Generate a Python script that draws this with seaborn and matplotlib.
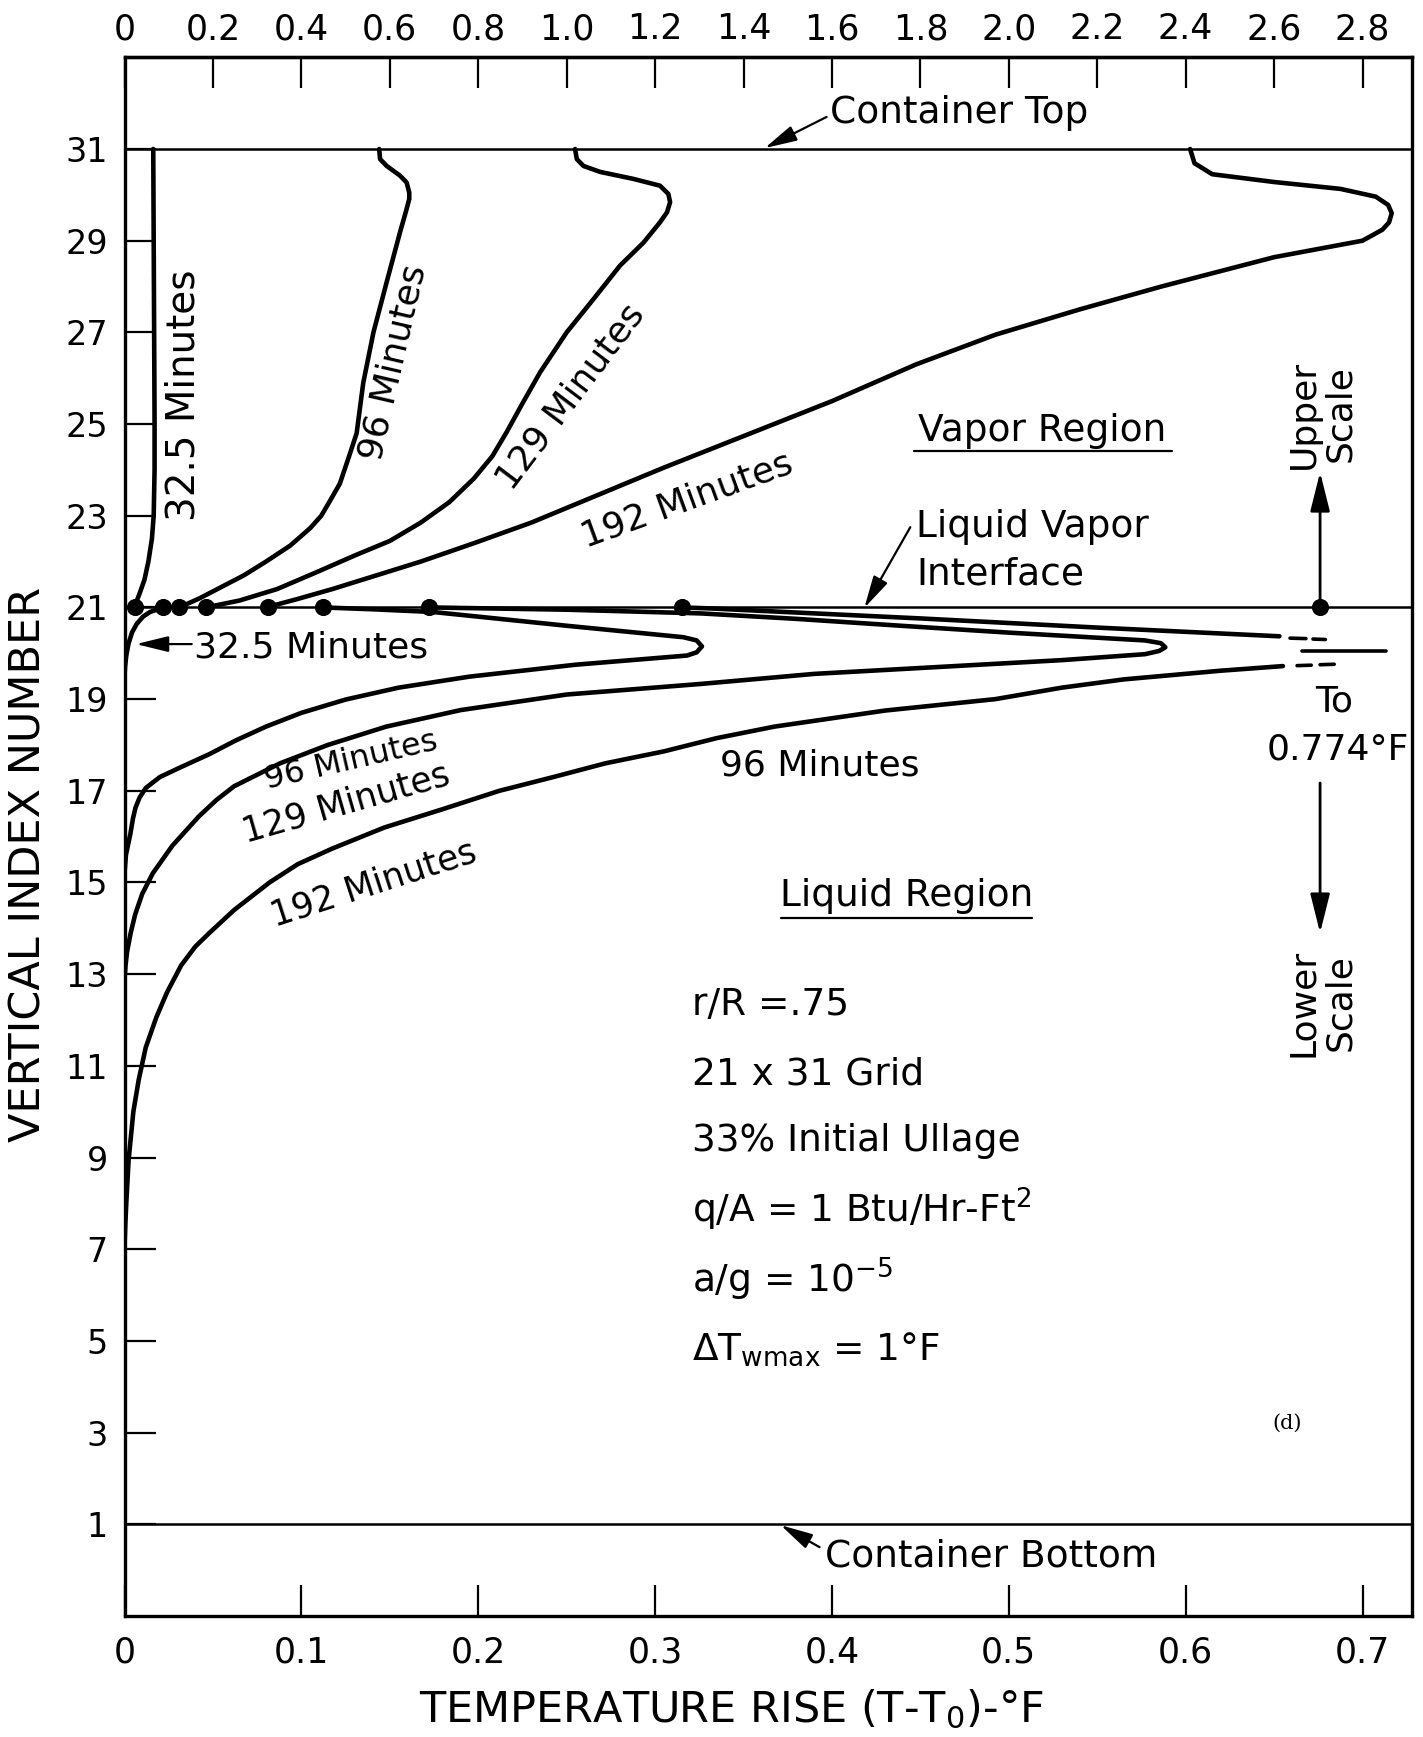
import numpy as np
import pandas as pd
import matplotlib
matplotlib.use("Agg")
import matplotlib.pyplot as plt
import seaborn as sns

# ---------------- data ----------------
# vapor region curves: values on the UPPER scale (deg F), vertical index
v32_idx = [21, 21.15, 21.3, 21.6, 22, 22.5, 23, 24, 25, 27, 29, 31]
v32_val = [0.024, 0.028, 0.034, 0.045, 0.054, 0.062, 0.066, 0.068, 0.068, 0.067, 0.066, 0.065]

v96_idx = [31, 30.78, 30.63, 30.42, 30.27, 30.05, 29.91, 29.69, 29.18, 28.1, 27.0, 25.9, 24.8,
           24.3, 23.7, 23.33, 23.0, 22.73, 22.35, 22.0, 21.7, 21.45, 21.2, 21.0]
v96_val = [0.576, 0.578, 0.593, 0.623, 0.638, 0.644, 0.644, 0.638, 0.623, 0.593, 0.563, 0.540, 0.525,
           0.508, 0.487, 0.465, 0.445, 0.42, 0.375, 0.32, 0.27, 0.22, 0.17, 0.124]

v129_idx = [31, 30.78, 30.63, 30.5, 30.35, 30.2, 30.02, 29.84, 29.62, 29.4, 28.96, 28.46, 27.73, 27.0,
            26.13, 25.45, 24.82, 24.3, 23.81, 23.3, 22.85, 22.45, 22.13, 21.75, 21.4, 21.15, 21.0]
v129_val = [1.019, 1.023, 1.038, 1.076, 1.15, 1.211, 1.23, 1.234, 1.227, 1.211, 1.174, 1.121, 1.061, 1.0,
            0.94, 0.9, 0.864, 0.832, 0.79, 0.735, 0.67, 0.6, 0.52, 0.43, 0.345, 0.26, 0.184]

v192_idx = [31, 30.69, 30.45, 30.28, 30.13, 29.96, 29.78, 29.6, 29.4, 29.24, 29.0, 28.64, 28.0, 27.5,
            26.95, 26.3, 25.5, 24.05, 22.85, 22.4, 22.0, 21.7, 21.4, 21.18, 21.0]
v192_val = [2.41, 2.42, 2.46, 2.6, 2.75, 2.83, 2.858, 2.866, 2.86, 2.845, 2.8, 2.6, 2.345, 2.16,
            1.97, 1.79, 1.6, 1.22, 0.92, 0.79, 0.67, 0.57, 0.47, 0.39, 0.32]

# liquid region curves: values on the LOWER scale (deg F)
l32_idx = [19.5, 19.7, 19.95, 20.2, 20.45, 20.64, 20.8, 20.9, 21.0]
l32_val = [0.0, 0.0003, 0.001, 0.0022, 0.0042, 0.0069, 0.0105, 0.0144, 0.022]

l96_idx = [15.2, 15.6, 16.06, 16.4, 16.63, 16.85, 17.06, 17.3, 17.5, 17.8, 18.1, 18.4, 18.7, 18.99,
           19.25, 19.49, 19.75, 19.95, 20.02, 20.15, 20.28, 20.35, 20.6, 20.9, 20.96, 21.0]
l96_val = [0.0, 0.0008, 0.0033, 0.0048, 0.0062, 0.0085, 0.012, 0.02, 0.031, 0.048, 0.063, 0.08, 0.1, 0.125,
           0.155, 0.195, 0.255, 0.318, 0.3235, 0.3265, 0.3235, 0.316, 0.25, 0.1745, 0.14, 0.112]

l129_idx = [12.9, 13.2, 13.5, 13.9, 14.3, 14.75, 15.2, 15.8, 16.44, 16.8, 17.1, 17.6, 18.0, 18.4, 18.76,
            19.1, 19.33, 19.55, 19.7, 19.85, 19.98, 20.05, 20.13, 20.22, 20.28, 20.45, 20.6, 20.75,
            20.87, 20.95, 21.0]
l129_val = [0.0, 0.0006, 0.0015, 0.0035, 0.006, 0.01, 0.016, 0.027, 0.042, 0.052, 0.062, 0.088, 0.115,
            0.148, 0.19, 0.25, 0.3256, 0.39, 0.46, 0.53, 0.577, 0.585, 0.5885, 0.586, 0.577, 0.5, 0.439,
            0.38, 0.3256, 0.25, 0.172]

l192_low_idx = [7.05, 7.5, 8.0, 8.94, 10.0, 10.69, 11.4, 12.06, 12.6, 13.19, 13.6, 13.9, 14.4, 15.0,
                15.4, 15.74, 16.2, 16.6, 17.0, 17.3, 17.6, 17.86, 18.15, 18.4, 18.75, 19.0, 19.25,
                19.43, 19.62, 19.72]
l192_low_val = [0.0, 0.0004, 0.001, 0.0023, 0.005, 0.008, 0.012, 0.018, 0.024, 0.032, 0.04, 0.048, 0.062,
                0.082, 0.098, 0.1175, 0.147, 0.18, 0.212, 0.2425, 0.272, 0.305, 0.335, 0.3675, 0.43,
                0.4925, 0.53, 0.565, 0.62, 0.655]
l192_up_idx = [21.0, 20.98, 20.76, 20.56, 20.37]
l192_up_val = [0.315, 0.33, 0.45, 0.55, 0.653]

# interface dots (lower scale)
dot_x = [0.006, 0.022, 0.031, 0.046, 0.081, 0.112, 0.172, 0.315, 0.676]

lower_ticks = [0, 0.1, 0.2, 0.3, 0.4, 0.5, 0.6, 0.7]
lower_labels = ["0", "0.1", "0.2", "0.3", "0.4", "0.5", "0.6", "0.7"]
upper_ticks = [0, 0.2, 0.4, 0.6, 0.8, 1.0, 1.2, 1.4, 1.6, 1.8, 2.0, 2.2, 2.4, 2.6, 2.8]
upper_labels = ["0", "0.2", "0.4", "0.6", "0.8", "1.0", "1.2", "1.4", "1.6", "1.8", "2.0", "2.2", "2.4", "2.6", "2.8"]
y_ticks = list(range(1, 32, 2))

# ---------------- build long table ----------------
rows = []
def add(name, vals, idx, scale=1.0):
    for v, i in zip(vals, idx):
        rows.append((name, v * scale, i))

add("v32", v32_val, v32_idx, 0.25)
add("v96", v96_val, v96_idx, 0.25)
add("v129", v129_val, v129_idx, 0.25)
add("v192", v192_val, v192_idx, 0.25)
add("l32", l32_val, l32_idx)
add("l96", l96_val, l96_idx)
add("l129", l129_val, l129_idx)
add("l192a", l192_low_val, l192_low_idx)
add("l192b", l192_up_val, l192_up_idx)
df = pd.DataFrame(rows, columns=["curve", "x", "y"])

# ---------------- figure ----------------
sns.set_theme(style="ticks")
plt.rcParams["font.family"] = ["DejaVu Sans"]
plt.rcParams["mathtext.fontset"] = "dejavusans"
plt.rcParams["text.color"] = "black"
plt.rcParams["axes.labelcolor"] = "black"

fig = plt.figure(figsize=(14.23, 17.37), dpi=100)
ax = fig.add_axes([0.0875, 0.0697, 0.9048, 0.8973])

sns.lineplot(data=df, x="x", y="y", units="curve", estimator=None, sort=False,
             color="black", lw=3.3, ax=ax, legend=False)
for ln in ax.lines:
    ln.set_solid_joinstyle("round")
    ln.set_solid_capstyle("round")

# off-scale continuation dashes of the 192-minute liquid curve
dash_rows = [("d1", 0.659, 20.33), ("d1", 0.668, 20.32),
             ("d2", 0.672, 20.31), ("d2", 0.679, 20.30),
             ("d3", 0.663, 19.73), ("d3", 0.671, 19.74),
             ("d4", 0.676, 19.75), ("d4", 0.684, 19.76),
             ("h", 0.666, 20.05), ("h", 0.713, 20.05)]
ddf = pd.DataFrame(dash_rows, columns=["seg", "x", "y"])
sns.lineplot(data=ddf, x="x", y="y", units="seg", estimator=None, sort=False,
             color="black", lw=2.6, ax=ax, legend=False)

# reference lines
for yy in (31, 21, 1):
    ax.axhline(yy, color="black", lw=1.8, zorder=1)

sns.scatterplot(x=dot_x, y=[21] * len(dot_x), color="black", s=130, edgecolor="black",
                ax=ax, zorder=6, legend=False)

ax.set_xlim(0, 0.728)
ax.set_ylim(-1, 33)
ax.set_xticks(lower_ticks)
ax.set_xticklabels(lower_labels)
ax.set_yticks(y_ticks)
ax.set_yticklabels([str(t) for t in y_ticks])
ax.tick_params(axis="x", direction="in", length=22, width=1.6, labelsize=25, pad=14,
               top=False, bottom=True, colors="black")
ax.tick_params(axis="y", direction="in", length=22, width=1.6, labelsize=24, pad=12,
               right=False, left=True, colors="black")
ax.set_xlabel("")
ax.set_ylabel("")
for s in ax.spines.values():
    s.set_linewidth(2.4)
    s.set_color("black")

secax = ax.secondary_xaxis("top", functions=(lambda x: 4 * x, lambda x: x / 4))
secax.set_xticks(upper_ticks)
secax.set_xticklabels(upper_labels)
secax.tick_params(direction="in", length=22, width=1.6, labelsize=25, pad=8, colors="black")
secax.spines["top"].set_linewidth(2.4)

fig.text(0.0197, 0.5026, "VERTICAL INDEX NUMBER", rotation=90, ha="center", va="center", fontsize=31)
fig.text(0.5137, 0.0161, "TEMPERATURE RISE (T-T$_0$)-°F", ha="center", va="center", fontsize=31)

fs = 27
cfs = 26
lfs = 24
arrow = dict(arrowstyle="-|>,head_length=0.9,head_width=0.22", color="black", lw=1.6,
             mutation_scale=22, shrinkA=0, shrinkB=0)

# container top / bottom
ax.text(0.399, 31.78, "Container Top", fontsize=fs, ha="left", va="center")
ax.annotate("", xy=(0.362, 31.02), xytext=(0.397, 31.7), arrowprops=arrow)
ax.text(0.396, 0.3, "Container Bottom", fontsize=fs, ha="left", va="center")
ax.annotate("", xy=(0.371, 0.98), xytext=(0.393, 0.5), arrowprops=arrow)

# region titles
ax.text(0.519, 24.85, "Vapor Region", fontsize=fs, ha="center", va="center")
ax.plot([0.4465, 0.5925], [24.42, 24.42], color="black", lw=1.6)
ax.text(0.442, 14.7, "Liquid Region", fontsize=fs, ha="center", va="center")
ax.plot([0.3713, 0.5133], [14.23, 14.23], color="black", lw=1.6)

ax.text(0.4477, 22.23, "Liquid Vapor\nInterface", fontsize=fs, ha="left", va="center", linespacing=1.4)
ax.annotate("", xy=(0.4183, 20.99), xytext=(0.4443, 22.75), arrowprops=arrow)

# curve labels - vapor
ax.text(0.0331, 25.63, "32.5 Minutes", fontsize=28, rotation=90, ha="center", va="center")
ax.text(0.152, 26.35, "96 Minutes", fontsize=cfs, rotation=77, ha="center", va="center", rotation_mode="anchor")
ax.text(0.252, 25.59, "129 Minutes", fontsize=cfs, rotation=53, ha="center", va="center", rotation_mode="anchor")
ax.text(0.318, 23.35, "192 Minutes", fontsize=cfs, rotation=20, ha="center", va="center", rotation_mode="anchor")

# curve labels - liquid
ax.text(0.0395, 20.12, "32.5 Minutes", fontsize=cfs, ha="left", va="center")
ax.annotate("", xy=(0.0065, 20.2), xytext=(0.038, 20.2), arrowprops=arrow)
ax.text(0.128, 17.66, "96 Minutes", fontsize=23, rotation=13, ha="center", va="center", rotation_mode="anchor")
ax.text(0.1253, 16.72, "129 Minutes", fontsize=lfs + 1, rotation=16, ha="center", va="center", rotation_mode="anchor")
ax.text(0.1411, 14.97, "192 Minutes", fontsize=lfs + 1, rotation=18, ha="center", va="center", rotation_mode="anchor")
ax.text(0.3933, 17.56, "96 Minutes", fontsize=cfs, ha="center", va="center")

# scale indicator
ax.annotate("", xy=(0.676, 23.95), xytext=(0.676, 21.0),
            arrowprops=dict(arrowstyle="-|>,head_length=1.0,head_width=0.25", color="black", lw=2,
                            mutation_scale=24, shrinkA=0, shrinkB=0))
ax.annotate("", xy=(0.676, 13.9), xytext=(0.676, 17.17),
            arrowprops=dict(arrowstyle="-|>,head_length=1.0,head_width=0.25", color="black", lw=2,
                            mutation_scale=24, shrinkA=0, shrinkB=0))
ax.text(0.677, 25.22, "Upper\nScale", fontsize=cfs, rotation=90, ha="center", va="center", linespacing=1.1)
ax.text(0.677, 12.37, "Lower\nScale", fontsize=cfs, rotation=90, ha="center", va="center", linespacing=1.1)
ax.text(0.684, 18.95, "To", fontsize=cfs, ha="center", va="center")
ax.text(0.686, 17.91, "0.774°F", fontsize=cfs, ha="center", va="center")

# parameters
px = 0.321
ax.text(px, 12.33, "r/R =.75", fontsize=fs, ha="left", va="center")
ax.text(px, 10.81, "21 x 31 Grid", fontsize=fs, ha="left", va="center")
ax.text(px, 9.35, "33% Initial Ullage", fontsize=fs, ha="left", va="center")
ax.text(px, 7.87, "q/A = 1 Btu/Hr-Ft$^2$", fontsize=fs, ha="left", va="center")
ax.text(px, 6.34, "a/g = 10$^{-5}$", fontsize=fs, ha="left", va="center")
ax.text(px, 4.82, "ΔT$_{\\mathrm{wmax}}$ = 1°F", fontsize=fs, ha="left", va="center")
ax.text(0.6575, 3.21, "(d)", fontsize=15, ha="center", va="center", family="DejaVu Serif")

fig.savefig("out.png", dpi=100, facecolor="white")
